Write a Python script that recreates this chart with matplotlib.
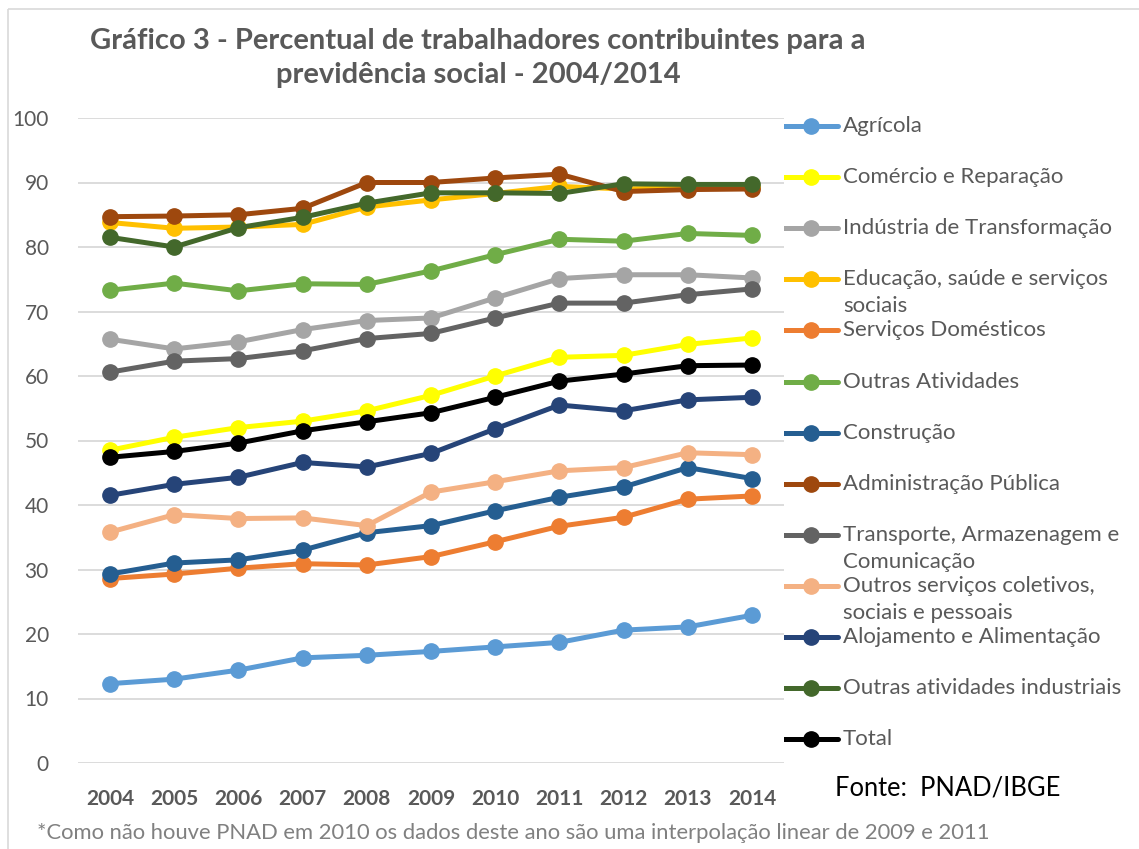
import numpy as np
import matplotlib.pyplot as plt
from matplotlib.patches import Rectangle

plt.rcParams['font.family'] = ['Lato', 'DejaVu Sans']

anos = ['2004', '2005', '2006', '2007', '2008', '2009', '2010', '2011', '2012', '2013', '2014']

agricola = [12.3, 13.0, 14.4, 16.3, 16.7, 17.3, 18.0, 18.7, 20.6, 21.1, 22.9]
comercio = [48.5, 50.5, 52.0, 53.0, 54.6, 57.0, 60.0, 62.9, 63.2, 64.9, 65.9]
industria = [65.7, 64.2, 65.3, 67.2, 68.6, 69.0, 72.1, 75.1, 75.7, 75.7, 75.2]
educacao = [83.8, 82.9, 83.1, 83.5, 86.2, 87.3, 88.3, 89.4, 89.0, 89.2, 89.3]
domesticos = [28.6, 29.3, 30.2, 30.9, 30.7, 32.0, 34.3, 36.7, 38.1, 40.9, 41.4]
outras_ativ = [73.3, 74.4, 73.2, 74.3, 74.2, 76.3, 78.8, 81.2, 80.9, 82.1, 81.8]
construcao = [29.3, 31.0, 31.5, 33.0, 35.7, 36.8, 39.1, 41.2, 42.8, 45.8, 44.1]
adm_publica = [84.7, 84.8, 85.0, 86.0, 90.0, 90.0, 90.7, 91.3, 88.6, 88.9, 89.0]
transporte = [60.6, 62.3, 62.7, 63.9, 65.8, 66.6, 69.0, 71.3, 71.3, 72.6, 73.5]
outros_serv = [35.8, 38.5, 37.9, 38.0, 36.8, 42.0, 43.6, 45.3, 45.8, 48.1, 47.8]
alojamento = [41.5, 43.2, 44.3, 46.6, 45.9, 48.0, 51.8, 55.5, 54.6, 56.3, 56.7]
outras_ind = [81.5, 80.0, 83.0, 84.6, 86.8, 88.4, 88.4, 88.3, 89.8, 89.7, 89.7]
total = [47.4, 48.3, 49.6, 51.5, 52.9, 54.3, 56.7, 59.2, 60.3, 61.6, 61.7]

series = [
    ('Agrícola', agricola, '#5B9BD5'),
    ('Comércio e Reparação', comercio, '#FFFF00'),
    ('Indústria de Transformação', industria, '#A5A5A5'),
    ('Educação, saúde e serviços\nsociais', educacao, '#FFC000'),
    ('Serviços Domésticos', domesticos, '#ED7D31'),
    ('Outras Atividades', outras_ativ, '#70AD47'),
    ('Construção', construcao, '#255E91'),
    ('Administração Pública', adm_publica, '#9E480E'),
    ('Transporte, Armazenagem e\nComunicação', transporte, '#636363'),
    ('Outros serviços coletivos,\nsociais e pessoais', outros_serv, '#F4B183'),
    ('Alojamento e Alimentação', alojamento, '#264478'),
    ('Outras atividades industriais', outras_ind, '#43682B'),
    ('Total', total, '#000000'),
]

W, H = 1139, 849
fig = plt.figure(figsize=(W / 100, H / 100), dpi=100)

# overlay axes in pixel coords for frame, legend, notes
bg = fig.add_axes([0, 0, 1, 1])
bg.set_xlim(0, W)
bg.set_ylim(H, 0)
bg.axis('off')
bg.add_patch(Rectangle((8, 9), W + 20, H + 20, fill=False, ec='#D9D9D9', lw=1.2))

ax = fig.add_axes([78 / W, 1 - 763 / H, (784 - 78) / W, (763 - 118) / H])
x = np.arange(len(anos))
for i, (nome, vals, cor) in enumerate(series):
    ax.plot(x, vals, color=cor, lw=3.6, marker='o', ms=11, zorder=3 + i)

ax.set_xlim(-0.5, len(anos) - 0.5)
ax.set_ylim(0, 100)
ax.set_yticks(range(0, 101, 10))
ax.set_xticks(x)
ax.set_xticklabels(anos, fontweight='bold')
ax.tick_params(axis='both', length=0, labelsize=15, labelcolor='#595959')
ax.tick_params(axis='y', pad=21)
ax.tick_params(axis='x', pad=19)
ax.grid(axis='y', color='#D9D9D9', lw=1.3)
ax.set_axisbelow(True)
for s in ax.spines.values():
    s.set_visible(False)

# legend drawn by hand (entries overlap like the original)
y0, dy = 126, 51.1
for i, (nome, vals, cor) in enumerate(series):
    yy = y0 + i * dy
    bg.plot([783, 811, 838], [yy, yy, yy], color=cor, lw=3.6, marker='o', ms=11,
            markevery=[1], solid_capstyle='round')
    bg.text(843, yy - 10, nome, fontsize=16, color='#595959', va='top', ha='left',
            linespacing=1.42)

fig.text(478 / W, 1 - 58 / H,
         'Gráfico 3 - Percentual de trabalhadores contribuintes para a\nprevidência social - 2004/2014',
         ha='center', va='center', fontsize=21, fontweight='bold', color='#595959',
         linespacing=1.4)
bg.text(835, 788, 'Fonte:  PNAD/IBGE', fontsize=18.4, color='#000000', va='center', ha='left')
bg.text(37, 833, '*Como não houve PNAD em 2010 os dados deste ano são uma interpolação linear de 2009 e 2011',
        fontsize=15.8, color='#808080', va='center', ha='left')

fig.savefig('out.png', dpi=100)
